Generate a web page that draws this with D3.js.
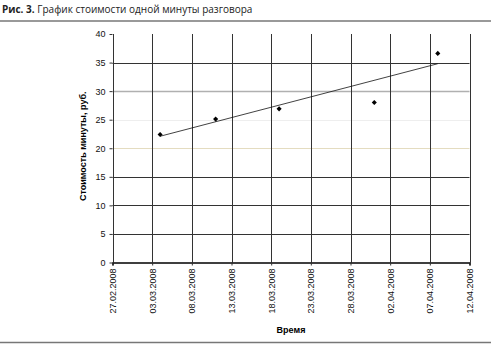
<!DOCTYPE html>
<html><head><meta charset="utf-8">
<script src="https://cdn.jsdelivr.net/npm/d3@7"></script>
<style>body{margin:0;background:#fff;}svg{display:block;}</style>
</head><body>
<script>
// Data
const pointDates = ["04.03.2008", "11.03.2008", "19.03.2008", "31.03.2008", "08.04.2008"];
const pointValues = [22.4, 25.1, 26.9, 28.0, 36.6];
const trendDates = ["04.03.2008", "08.04.2008"];
const trendValues = [22.1, 34.8];
const xTickLabels = ["27.02.2008","03.03.2008","08.03.2008","13.03.2008","18.03.2008","23.03.2008","28.03.2008","02.04.2008","07.04.2008","12.04.2008"];
const yTicks = [0, 5, 10, 15, 20, 25, 30, 35, 40];
const titleBold = "Рис. 3.";
const titleText = " График стоимости одной минуты разговора";
const yTitle = "Стоимость минуты, руб.";
const xTitle = "Время";

const W = 491, H = 352;
const parse = d3.timeParse("%d.%m.%Y");
const svg = d3.select("body").append("svg").attr("width", W).attr("height", H);

const x = d3.scaleTime().domain([parse(xTickLabels[0]), parse(xTickLabels[xTickLabels.length-1])]).range([112.5, 469.5]);
const y = d3.scaleLinear().domain([0, 40]).range([262.5, 34]);

// title
const t = svg.append("text").attr("x", 2).attr("y", 13)
  .style("font-family", "'Open Sans', sans-serif").style("font-size", "10px").attr("fill", "#222");
t.append("tspan").attr("font-weight", "bold").text(titleBold);
t.append("tspan").text(titleText);

// rules
svg.append("line").attr("x1", 0).attr("x2", W).attr("y1", 21).attr("y2", 21).attr("stroke", "#777").attr("stroke-width", 1.5);
svg.append("line").attr("x1", 0).attr("x2", W).attr("y1", 342.5).attr("y2", 342.5).attr("stroke", "#777").attr("stroke-width", 1.5);

// horizontal gridlines
const hStyle = v => v === 30 ? {c:"#b0b0b0", w:1.5, d:null} : v === 25 ? {c:"#ddd", w:1, d:"1,1"} : v === 20 ? {c:"#e4dcc0", w:1, d:null} : {c:"#333", w:1, d:null};
svg.append("g").selectAll("line").data(yTicks.filter(v => v > 0 && v < 40)).join("line")
  .attr("x1", x.range()[0]).attr("x2", x.range()[1])
  .attr("y1", d => Math.round(y(d)) + 0.5).attr("y2", d => Math.round(y(d)) + 0.5)
  .attr("stroke", d => hStyle(d).c).attr("stroke-width", d => hStyle(d).w)
  .attr("stroke-dasharray", d => hStyle(d).d);

// vertical gridlines
svg.append("g").selectAll("line").data(xTickLabels).join("line")
  .attr("x1", d => Math.round(x(parse(d))) + 0.5).attr("x2", d => Math.round(x(parse(d))) + 0.5)
  .attr("y1", y(40)).attr("y2", y(0))
  .attr("stroke", "#333").attr("stroke-width", 1);

// y axis
const yAxis = svg.append("g").attr("transform", `translate(${x.range()[0]},0)`)
  .call(d3.axisLeft(y).tickValues(yTicks).tickSize(3).tickPadding(4));
yAxis.select(".domain").remove();
yAxis.selectAll("line").attr("stroke", "#333");
yAxis.selectAll("text").style("font-family", "'Liberation Sans', Arial, sans-serif").style("font-size", "9px").attr("fill", "#111");

// x axis
const xAxis = svg.append("g").attr("transform", `translate(0,${y(0)})`)
  .call(d3.axisBottom(x).tickValues(xTickLabels.map(parse)).tickFormat(d3.timeFormat("%d.%m.%Y")).tickSize(3).tickPadding(4));
xAxis.select(".domain").attr("stroke", "#000").attr("stroke-width", 1.5);
xAxis.selectAll("line").attr("stroke", "#333");
xAxis.selectAll("text")
  .style("font-family", "'Liberation Sans', Arial, sans-serif").style("font-size", "9px").attr("fill", "#111")
  .attr("transform", "rotate(-90)").attr("text-anchor", "end").attr("x", -6).attr("y", 0).attr("dy", "0.32em");

// trend line
svg.append("path")
  .datum(trendDates.map((d, i) => [parse(d), trendValues[i]]))
  .attr("d", d3.line().x(d => x(d[0])).y(d => y(d[1])))
  .attr("fill", "none").attr("stroke", "#111").attr("stroke-width", 0.8);

// points (small square diamonds)
svg.append("g").selectAll("path").data(pointDates.map((d, i) => [parse(d), pointValues[i]])).join("path")
  .attr("d", d3.symbol().type(d3.symbolSquare).size(13))
  .attr("transform", d => `translate(${x(d[0])},${y(d[1])}) rotate(45)`)
  .attr("fill", "#000");

// axis titles
svg.append("text").attr("transform", `translate(86,${(y(0)+y(40))/2 - 2}) rotate(-90)`)
  .attr("text-anchor", "middle")
  .style("font-family", "'Liberation Sans', Arial, sans-serif").style("font-size", "9px").attr("font-weight", "bold")
  .attr("fill", "#000").text(yTitle);
svg.append("text").attr("x", 291).attr("y", 333).attr("text-anchor", "middle")
  .style("font-family", "'Liberation Sans', Arial, sans-serif").style("font-size", "9px").attr("font-weight", "bold")
  .attr("fill", "#000").text(xTitle);
</script>
</body></html>
